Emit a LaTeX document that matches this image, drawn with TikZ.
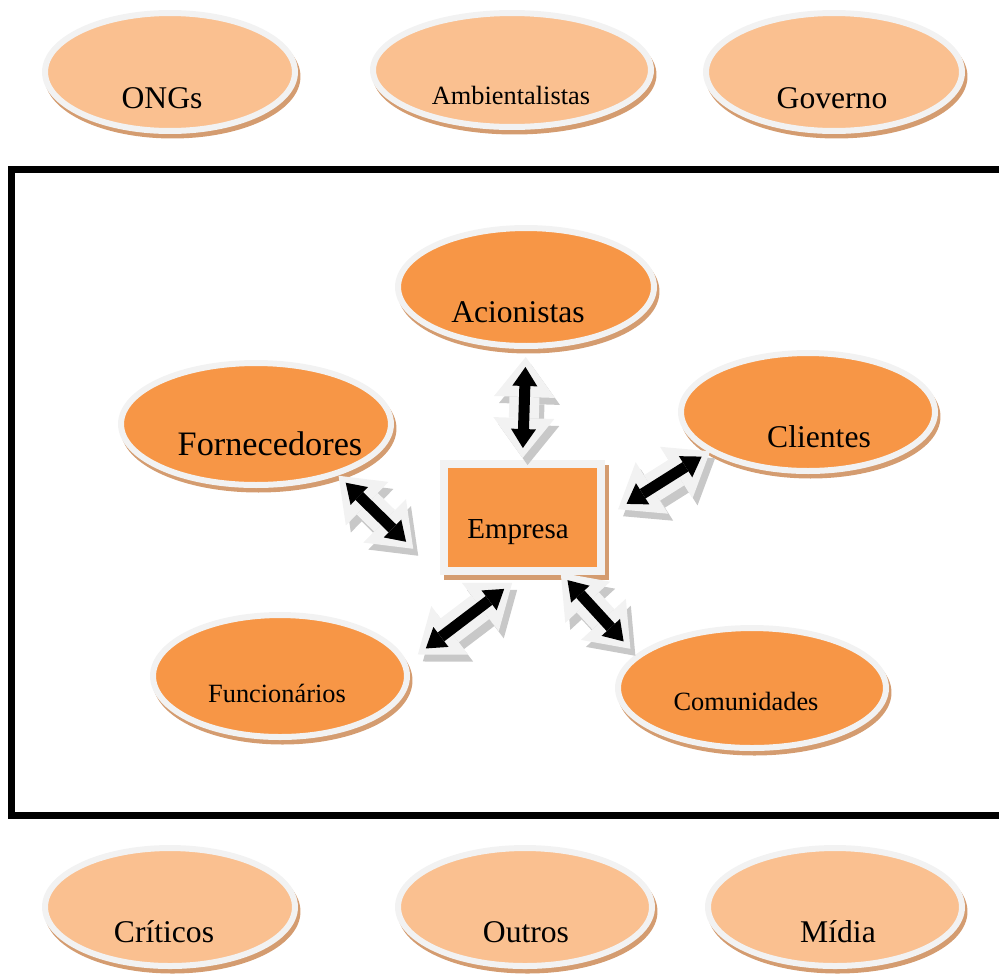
\documentclass[tikz,border=0pt]{standalone}
\usepackage{fontspec}
\setmainfont{Liberation Serif}
\usetikzlibrary{shapes.geometric, shadows, arrows.meta}
\definecolor{peachlight}{RGB}{250,192,144}
\definecolor{peachdark}{RGB}{247,150,70}
\definecolor{ringgray}{RGB}{242,242,242}
\definecolor{shadowtan}{RGB}{212,156,112}
\definecolor{arrowshade}{RGB}{200,200,200}

\tikzset{
  group/.style={ellipse, fill=peachlight, draw=ringgray, line width=0.12cm, inner sep=0pt,
    drop shadow={shadow xshift=0.05cm, shadow yshift=-0.09cm, fill=shadowtan,
      draw=shadowtan, line width=0.12cm, opacity=1}},
  core/.style={group, fill=peachdark},
  firm/.style={rectangle, fill=peachdark, draw=ringgray, line width=0.16cm, inner sep=0pt,
    minimum width=3.14cm, minimum height=2.14cm,
    drop shadow={shadow xshift=0.08cm, shadow yshift=-0.1cm, fill=shadowtan,
      draw=shadowtan, line width=0.16cm, opacity=1}},
  lbl/.style={inner sep=0pt, font=\fontsize{18}{20}\selectfont},
  lblsmall/.style={inner sep=0pt, font=\fontsize{15}{17}\selectfont},
  arrrim/.style={draw=ringgray, line width=0.6cm,
    arrows={Triangle[width=1.22cm,length=0.8cm,line width=0pt]-Triangle[width=1.22cm,length=0.8cm,line width=0pt]}},
  arrshade/.style={arrrim, draw=arrowshade, transform canvas={xshift=0.1cm, yshift=-0.14cm}},
  arrcore/.style={draw=black, line width=0.22cm,
    arrows={Triangle[width=0.5cm,length=0.38cm,line width=0pt]-Triangle[width=0.5cm,length=0.38cm,line width=0pt]}},
}

% two-way link: from, to, shorten at from, shorten at to (cm)
\newcommand{\linkarrow}[4]{%
  \draw[arrshade, shorten <={(#3-0.2)*1cm}, shorten >={(#4-0.2)*1cm}] (#1) -- (#2);
  \draw[arrrim, shorten <={(#3-0.2)*1cm}, shorten >={(#4-0.2)*1cm}] (#1) -- (#2);
  \draw[arrcore, shorten <=#3cm, shorten >=#4cm] (#1) -- (#2);
}

\begin{document}
\begin{tikzpicture}[x=0.02cm, y=-0.02cm]
  \useasboundingbox (0,0) rectangle (999,978);

  % outer stakeholders, top row
  \node[group, minimum width=5cm, minimum height=2.36cm] (ongs) at (170,72) {};
  \node[group, minimum width=5.56cm, minimum height=2.28cm] (amb) at (512,70) {};
  \node[group, minimum width=5.12cm, minimum height=2.36cm] (gov) at (834,72) {};
  \node[lbl] (ongs-l) at (162,98) {ONGs};
  \node[lblsmall] (amb-l) at (511,95) {Ambientalistas};
  \node[lbl] (gov-l) at (832,98) {Governo};

  % company boundary
  \draw[line width=0.14cm] (1010,169.5) -- (11.5,169.5) -- (11.5,815.5) -- (1010,815.5);

  % inner stakeholders
  \node[core, minimum width=5.12cm, minimum height=2.36cm] (acio) at (526,287) {};
  \node[core, minimum width=5.4cm, minimum height=2.44cm] (forn) at (256,424) {};
  \node[core, minimum width=5.08cm, minimum height=2.36cm] (cli) at (808,412) {};
  \node[core, minimum width=5.08cm, minimum height=2.44cm] (func) at (280,676) {};
  \node[core, minimum width=5.36cm, minimum height=2.4cm] (com) at (752,688) {};
  \node[firm] (emp) at (522.5,517.5) {};
  \node[lbl] (acio-l) at (518,312) {Acionistas};
  \node[lbl, font=\fontsize{19.5}{21}\selectfont] (forn-l) at (270,444) {Fornecedores};
  \node[lbl] (cli-l) at (819,437) {Clientes};
  \node[lblsmall] (func-l) at (277,693) {Funcionários};
  \node[lblsmall] (com-l) at (746,701) {Comunidades};
  \node[lbl, font=\fontsize{16.5}{18}\selectfont] (emp-l) at (518,532) {Empresa};

  \linkarrow{acio.south}{emp.north}{0.36}{0.24}
  \linkarrow{forn.-32}{emp.south west}{0.21}{0.95}
  \linkarrow{cli.202}{emp.east}{0.17}{0.51}
  \linkarrow{func.6}{emp.south}{0.47}{0.46}
  \linkarrow{com.164.5}{emp.-55}{0.36}{0.14}

  % outer stakeholders, bottom row
  \node[group, minimum width=5cm, minimum height=2.36cm] (crit) at (170,907) {};
  \node[group, minimum width=5.08cm, minimum height=2.36cm] (outr) at (525,907) {};
  \node[group, minimum width=5.08cm, minimum height=2.36cm] (midia) at (835,907) {};
  \node[lbl] (crit-l) at (164,932) {Críticos};
  \node[lbl] (outr-l) at (526,932) {Outros};
  \node[lbl] (midia-l) at (838,932) {Mídia};
\end{tikzpicture}
\end{document}
